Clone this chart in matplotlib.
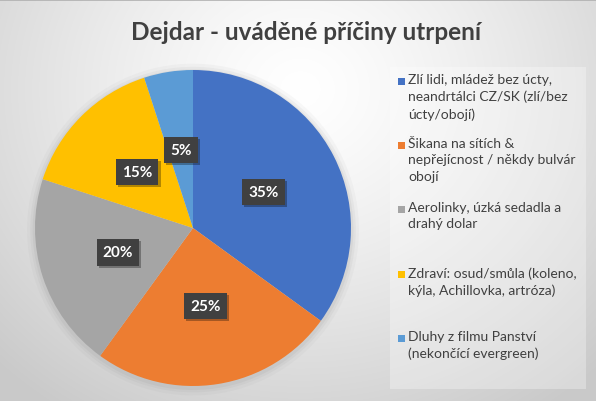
import numpy as np
import matplotlib
matplotlib.use("Agg")
import matplotlib.pyplot as plt
from matplotlib.patches import Rectangle, Circle
import matplotlib.patheffects as pe

title = "Dejdar - uváděné příčiny utrpení"
categories = [
    "Zlí lidi, mládež bez úcty,\nneandrtálci CZ/SK (zlí/bez\núcty/obojí)",
    "Šikana na sítích &\nnepřejícnost / někdy bulvár\nobojí",
    "Aerolinky, úzká sedadla a\ndrahý dolar",
    "Zdraví: osud/smůla (koleno,\nkýla, Achillovka, artróza)",
    "Dluhy z filmu Panství\n(nekončící evergreen)",
]
values = [35, 25, 20, 15, 5]
colors = ["#4472C4", "#ED7D31", "#A5A5A5", "#FFC000", "#5B9BD5"]

FONT = ["Lato", "DejaVu Sans"]
W, H = 596, 402
fig = plt.figure(figsize=(W / 100, H / 100), dpi=100)

# background radial gradient
bg = fig.add_axes([0, 0, 1, 1])
yy, xx = np.mgrid[0:H, 0:W]
d = np.sqrt(((xx - 300) / 1.0) ** 2 + ((yy - 90) / 0.9) ** 2)
t = np.clip(d / 430, 0, 1)
v = 1.0 - 0.21 * t ** 1.3
img = np.dstack([v, v, v])
bg.imshow(img, extent=[0, W, H, 0], aspect="auto")
bg.set_xlim(0, W)
bg.set_ylim(H, 0)
bg.axis("off")
# legend panel
bg.add_patch(Rectangle((390, 68), 196, 322, facecolor="white", alpha=0.3, edgecolor="none"))
bg.plot([0, W], [0.5, 0.5], color="#b0b0b0", lw=1.2)

# pie
cx, cy, R = 193, 229, 158
ax = fig.add_axes([(cx - R) / W, (H - cy - R) / H, 2 * R / W, 2 * R / H])
for s, a in [(1.05, 0.05), (1.03, 0.07), (1.015, 0.09)]:
    ax.add_patch(Circle((0, -0.01), s, color="#808080", alpha=a, lw=0, clip_on=False))
wedges, _, autotexts = ax.pie(values, colors=colors, startangle=90, counterclock=False,
                              wedgeprops=dict(linewidth=0), radius=1.0,
                              autopct=lambda p: f"{p:.0f}%", pctdistance=0.5)
for at in autotexts:
    at.set_color("white")
    at.set_fontsize(11)
    at.set_fontweight("bold")
    at.set_family(FONT)
    at.set_bbox(dict(boxstyle="square,pad=0.4", facecolor="#404040", edgecolor="none"))
    at.get_bbox_patch().set_path_effects(
        [pe.SimplePatchShadow(offset=(1.5, -1.5), shadow_rgbFace="black", alpha=0.3), pe.Normal()])
ax.set_xlim(-1, 1)
ax.set_ylim(-1, 1)
ax.set_aspect("equal")
ax.axis("off")

# title
fig.text(306 / W, 1 - 32 / H, title, ha="center", va="center", fontsize=17.5,
         fontweight="bold", color="#404040", family=FONT)

# legend
tops = [76, 140, 204, 269, 333]
for lab, col, ty in zip(categories, colors, tops):
    bg.add_patch(Rectangle((398, ty + 3), 7, 7, facecolor=col, edgecolor="none"))
    bg.text(408, ty - 2, lab, ha="left", va="top", fontsize=10, color="#404040",
            family=FONT, linespacing=1.45)

fig.savefig("out.png", dpi=100)
